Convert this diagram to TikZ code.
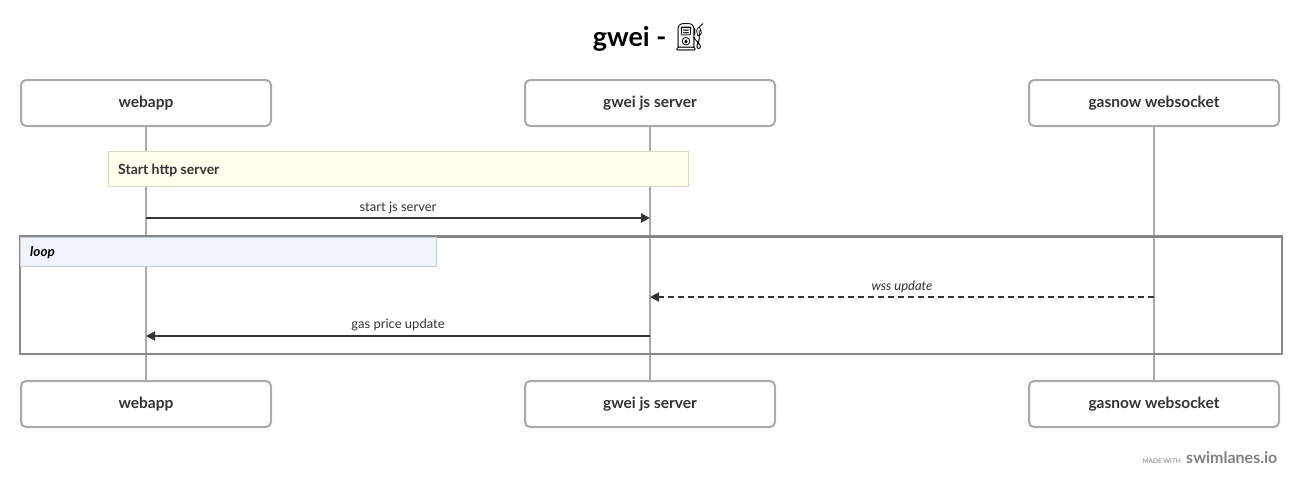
\documentclass[tikz,border=0pt]{standalone}
\usepackage{fontspec}
\setmainfont{Lato}
\newfontfamily\emojifont{Noto Emoji}
\usetikzlibrary{arrows.meta}
\definecolor{lifegray}{HTML}{AAAAAA}
\definecolor{framegray}{HTML}{888888}
\definecolor{notefill}{HTML}{FFFDEB}
\definecolor{notedraw}{HTML}{DDD9C0}
\definecolor{loopfill}{HTML}{EFF3FB}
\definecolor{loopdraw}{HTML}{CCCCD6}
\definecolor{msgcol}{HTML}{333333}
\definecolor{txtcol}{HTML}{333333}
\tikzset{
  actor/.style={draw=lifegray, line width=2pt, rounded corners=5pt, fill=white,
    minimum width=250pt, minimum height=46pt, text=txtcol,
    font=\fontsize{15.5}{18}\selectfont\bfseries},
  lifeline/.style={draw=lifegray, line width=2pt},
  msg/.style={draw=msgcol, line width=2pt, -{Triangle[length=9pt,width=9pt]}},
  dmsg/.style={msg, dash pattern=on 6pt off 4pt},
  msglabel/.style={text=txtcol, font=\fontsize{13}{15}\selectfont, anchor=base},
}
\begin{document}
\begin{tikzpicture}[x=1pt,y=-1pt]
\useasboundingbox (0,0) rectangle (1300,487);
% title
\node[anchor=base, text=black, font=\fontsize{27}{32}\selectfont\bfseries] (title) at (650,47) {gwei - {\emojifont ⛽}};
% lifelines
\coordinate (wtop) at (146,125); \coordinate (wbot) at (146,380);
\coordinate (gtop) at (650,125); \coordinate (gbot) at (650,380);
\coordinate (stop) at (1154,125); \coordinate (sbot) at (1154,380);
\draw[lifeline] (wtop) -- (wbot);
\draw[lifeline] (gtop) -- (gbot);
\draw[lifeline] (stop) -- (sbot);
% actors
\node[actor] (w1) at (146,103) {webapp};
\node[actor] (g1) at (650,103) {gwei js server};
\node[actor] (s1) at (1154,103) {gasnow websocket};
\node[actor] (w2) at (146,404) {webapp};
\node[actor] (g2) at (650,404) {gwei js server};
\node[actor] (s2) at (1154,404) {gasnow websocket};
% note
\node[draw=notedraw, fill=notefill, line width=1pt, minimum width=580pt, minimum height=35pt,
  anchor=north west, inner sep=0pt] (note) at (108,151) {};
\node[anchor=base west, text=txtcol, font=\fontsize{14}{16}\selectfont\bfseries, inner sep=0pt] (notetxt) at (118,174) {Start http server};
% message 1
\coordinate (m1a) at (146,218); \coordinate (m1b) at (650,218);
\draw[msg] (m1a) -- (m1b);
\node[msglabel] (l1) at (398,211) {start js server};
% loop frame
\node[draw=framegray, line width=2pt, minimum width=1262pt, minimum height=117pt,
  anchor=north west, inner sep=0pt] (loop) at (19,236) {};
\node[draw=loopdraw, fill=loopfill, line width=1pt, minimum width=416pt, minimum height=29pt,
  anchor=north west, inner sep=0pt] (looplab) at (20,237) {};
\draw[framegray, line width=2pt] (loop.north west) -- (loop.north east);
\node[anchor=base west, text=black, font=\fontsize{13.5}{15}\selectfont\bfseries\itshape, inner sep=0pt] (looptxt) at (30,256) {loop};
% message 2
\coordinate (m2a) at (1154,297); \coordinate (m2b) at (650,297);
\draw[dmsg] (m2a) -- (m2b);
\node[msglabel, font=\fontsize{13}{15}\selectfont\itshape] (l2) at (902,290) {wss update};
% message 3
\coordinate (m3a) at (650,336); \coordinate (m3b) at (146,336);
\draw[msg] (m3a) -- (m3b);
\node[msglabel] (l3) at (398,328) {gas price update};
% footer
\node[anchor=base east, text=gray, font=\fontsize{6.5}{8}\selectfont, inner sep=0pt] (made) at (1181,463) {MADE WITH};
\node[anchor=base west, text=gray, font=\fontsize{16}{18}\selectfont\bfseries, inner sep=0pt] (sw) at (1186,463) {swimlanes.io};
\end{tikzpicture}
\end{document}
